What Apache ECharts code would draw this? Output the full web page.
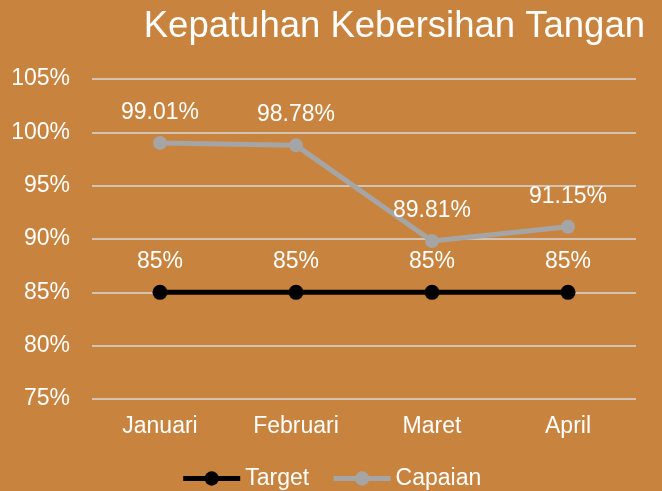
<!DOCTYPE html>
<html>
<head>
<meta charset="utf-8">
<script src="https://cdn.jsdelivr.net/npm/echarts@6/dist/echarts.min.js"></script>
<style>
    html, body { margin: 0; padding: 0; background: #C8843F; }
    #chart { width: 662px; height: 491px; }
</style>
</head>
<body>
<div id="chart"></div>
<script>
    // data
    var months = ['Januari', 'Februari', 'Maret', 'April'];
    var target = [85, 85, 85, 85];
    var capaian = [99.01, 98.78, 89.81, 91.15];

    var myChart = echarts.init(document.getElementById('chart'));
    var font = '"Liberation Sans", Arial, sans-serif';

    var option = {
        backgroundColor: '#C8843F',
        textStyle: { fontFamily: font },
        title: {
            text: 'Kepatuhan Kebersihan Tangan',
            right: 12,
            top: 3,
            textStyle: { color: '#fff', fontSize: 36.5, fontWeight: 'normal', fontFamily: font }
        },
        grid: { left: 92, right: 26, top: 79, bottom: 92 },
        legend: {
            bottom: -4,
            left: 'center',
            itemWidth: 57,
            itemHeight: 18,
            itemGap: 22,
            lineStyle: { width: 5 },
            textStyle: { color: '#fff', fontSize: 23, fontFamily: font },
            data: ['Target', 'Capaian']
        },
        xAxis: {
            type: 'category',
            data: months,
            axisLine: { show: false },
            axisTick: { show: false },
            axisLabel: { color: '#fff', fontSize: 23, margin: 16, fontFamily: font }
        },
        yAxis: {
            type: 'value',
            min: 75,
            max: 105,
            interval: 5,
            axisLabel: {
                color: '#fff', fontSize: 23, margin: 22, fontFamily: font,
                formatter: function(v) { return v + '%'; }
            },
            splitLine: { lineStyle: { color: '#D9D9D9', width: 1.5 } }
        },
        series: [{
                name: 'Target',
                type: 'line',
                data: target,
                symbol: 'circle',
                symbolSize: 15,
                color: '#000',
                lineStyle: { width: 5, color: '#000' },
                label: {
                    show: true,
                    position: 'top',
                    distance: 12,
                    color: '#fff',
                    fontSize: 23,
                    fontFamily: font,
                    formatter: function(p) { return p.value + '%'; }
                }
            },
            {
                name: 'Capaian',
                type: 'line',
                data: capaian,
                symbol: 'circle',
                symbolSize: 14,
                color: '#A5A5A5',
                lineStyle: { width: 5, color: '#A5A5A5' },
                label: {
                    show: true,
                    position: 'top',
                    distance: 12,
                    color: '#fff',
                    fontSize: 23,
                    fontFamily: font,
                    formatter: function(p) { return p.value.toFixed(2) + '%'; }
                }
            }
        ]
    };
    myChart.setOption(option);
</script>
</body>
</html>
